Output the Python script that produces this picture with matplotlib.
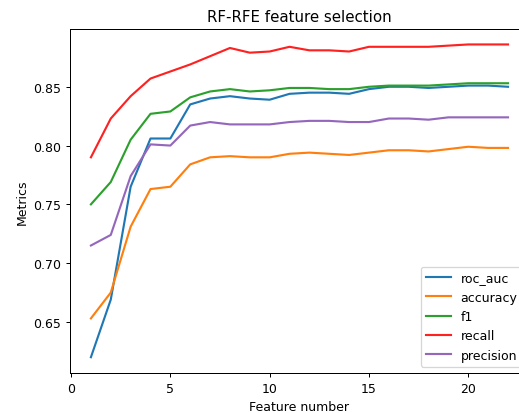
import matplotlib.pyplot as plt
import numpy as np

feature_number = np.arange(1, 23)

roc_auc = [0.620, 0.669, 0.765, 0.806, 0.806, 0.835, 0.840, 0.842, 0.840, 0.839, 0.844,
           0.845, 0.845, 0.844, 0.848, 0.850, 0.850, 0.849, 0.850, 0.851, 0.851, 0.850]
accuracy = [0.653, 0.675, 0.731, 0.763, 0.765, 0.784, 0.790, 0.791, 0.790, 0.790, 0.793,
            0.794, 0.793, 0.792, 0.794, 0.796, 0.796, 0.795, 0.797, 0.799, 0.798, 0.798]
f1 = [0.750, 0.769, 0.805, 0.827, 0.829, 0.841, 0.846, 0.848, 0.846, 0.847, 0.849,
      0.849, 0.848, 0.848, 0.850, 0.851, 0.851, 0.851, 0.852, 0.853, 0.853, 0.853]
recall = [0.790, 0.823, 0.842, 0.857, 0.863, 0.869, 0.876, 0.883, 0.879, 0.880, 0.884,
          0.881, 0.881, 0.880, 0.884, 0.884, 0.884, 0.884, 0.885, 0.886, 0.886, 0.886]
precision = [0.715, 0.724, 0.774, 0.801, 0.800, 0.817, 0.820, 0.818, 0.818, 0.818, 0.820,
             0.821, 0.821, 0.820, 0.820, 0.823, 0.823, 0.822, 0.824, 0.824, 0.824, 0.824]

# render at 90 dpi so fonts and lines come out a bit smaller, as in the reference
fig = plt.figure(figsize=(519 / 90, 414 / 90), dpi=90)
ax = fig.add_axes([0.135, 0.097, 0.884, 0.831])

ax.plot(feature_number, roc_auc, color='#1f77b4', linewidth=1.7, label='roc_auc')
ax.plot(feature_number, accuracy, color='#ff7f0e', linewidth=1.7, label='accuracy')
ax.plot(feature_number, f1, color='#2ca02c', linewidth=1.7, label='f1')
ax.plot(feature_number, recall, color='#ff2020', linewidth=1.7, label='recall')
ax.plot(feature_number, precision, color='#9467bd', linewidth=1.7, label='precision')

ax.set_xticks([0, 5, 10, 15, 20])
ax.set_yticks([0.65, 0.70, 0.75, 0.80, 0.85])
ax.set_xlabel('Feature number')
ax.set_ylabel('Metrics')
ax.set_title('RF-RFE feature selection')
ax.legend(loc='lower right')

fig.savefig('out.png', dpi=90)
